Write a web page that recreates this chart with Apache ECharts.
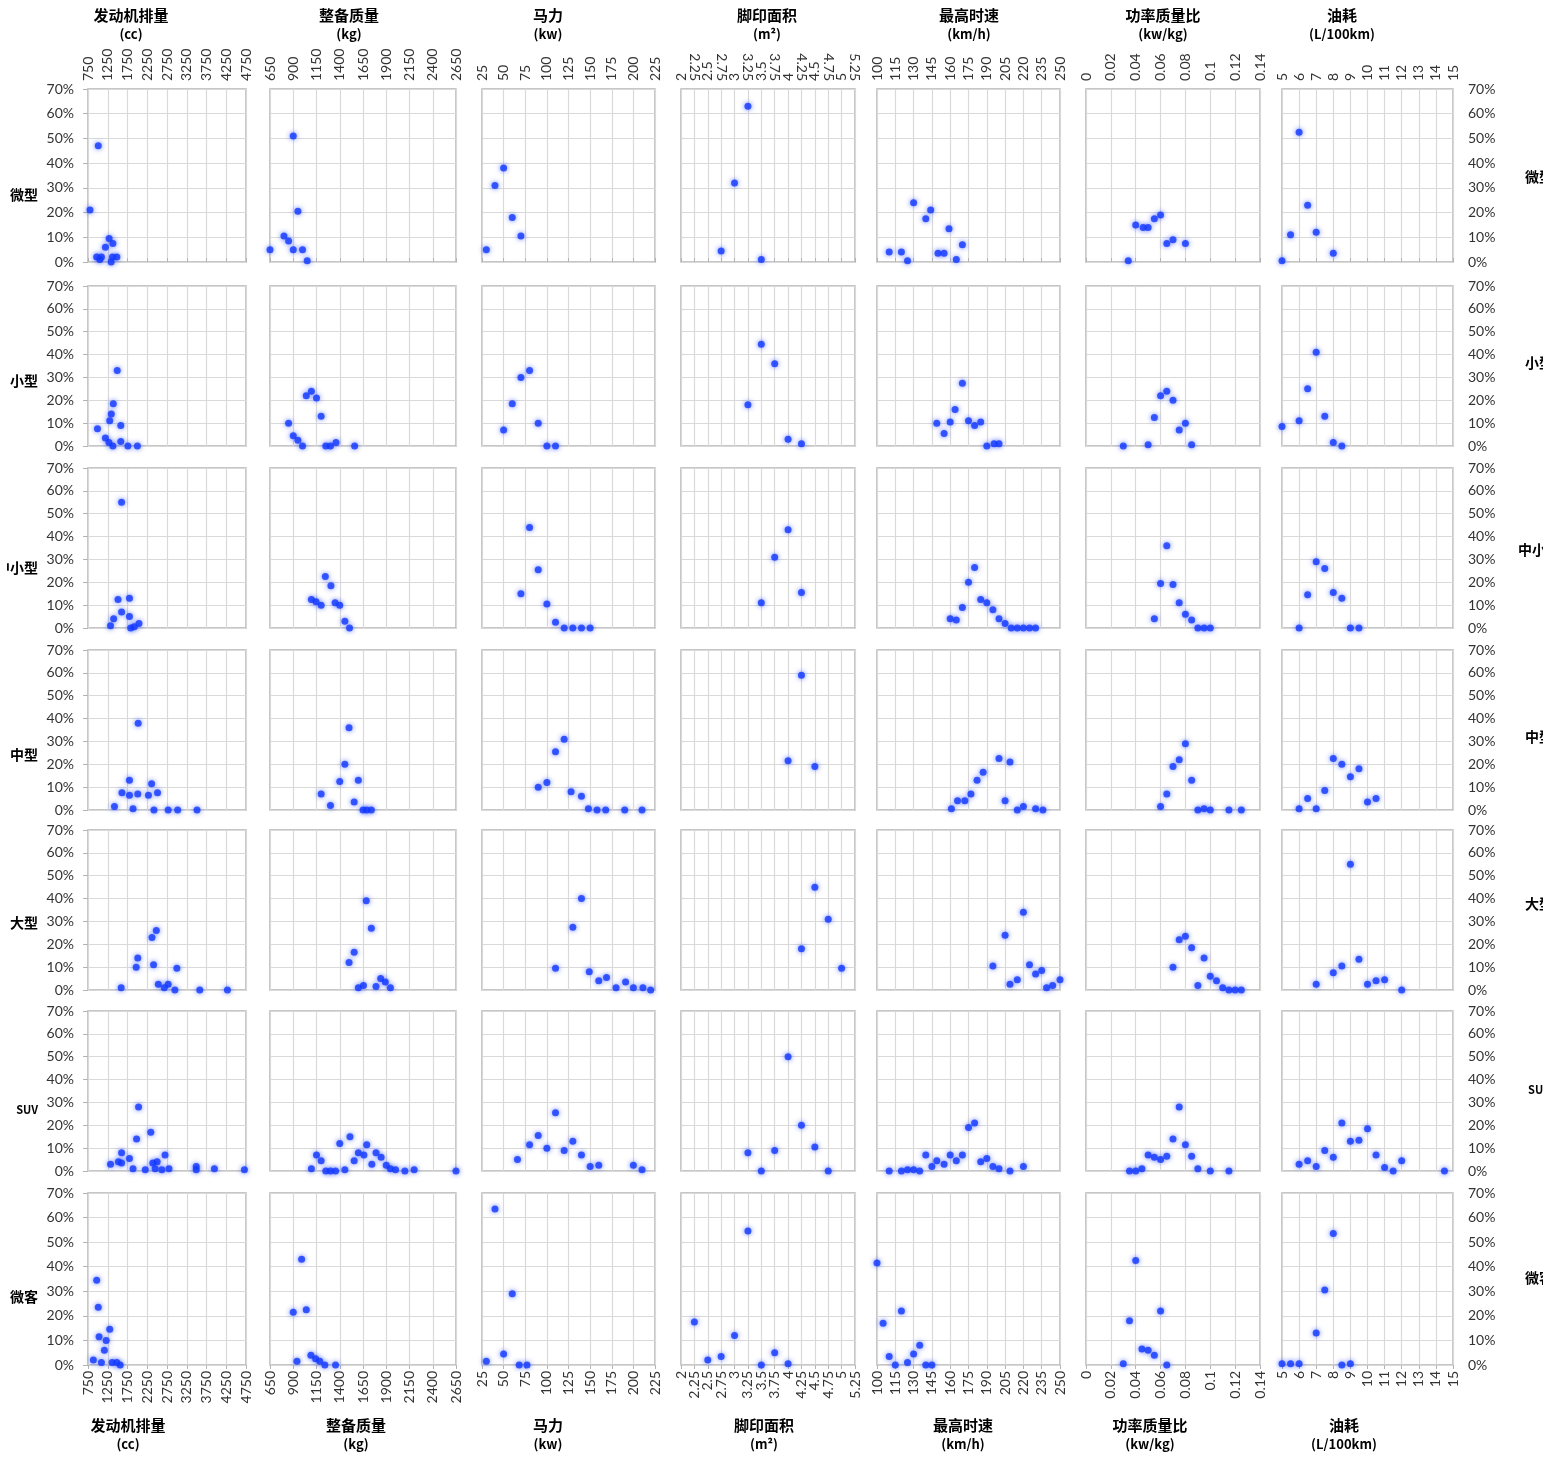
<!DOCTYPE html>
<html>
<head>
<meta charset="utf-8">
<script src="https://cdn.jsdelivr.net/npm/echarts@6/dist/echarts.min.js"></script>
<style>
  html, body { margin: 0; padding: 0; background: #fff; }
  #chart { width: 1560px; height: 1458px; }
</style>
</head>
<body>
<div id="chart"></div>
<script>
// Vehicle classes (rows) and attributes (columns)
const rowNames = ['微型', '小型', '中小型', '中型', '大型', 'SUV', '微客'];
const colNames = ['发动机排量', '整备质量', '马力', '脚印面积', '最高时速', '功率质量比', '油耗'];
const colUnits = ['(cc)', '(kg)', '(kw)', '(m²)', '(km/h)', '(kw/kg)', '(L/100km)'];

// Attribute axis ranges and tick steps
const xMin  = [750, 650, 25, 2, 100, 0, 5];
const xMax  = [4750, 2650, 225, 5.25, 250, 0.14, 15];
const xStep = [500, 250, 25, 0.25, 15, 0.02, 1];

// Share of models (%) axis
const yMin = 0, yMax = 70, yStep = 10;

// Share of models (%) by attribute value, one list per attribute column: [value, share%]
const microCar = [
  [[800,21],[1010,47],[970,2],[1050,1],[1090,2],[1190,6],[1285,9.5],[1380,7.5],[1370,2],[1335,0],[1480,2]],
  [[650,5],[900,51],[800,10.5],[850,8.5],[950,20.5],[900,5],[1000,5],[1050,0.5]],
  [[30,5],[40,31],[50,38],[60,18],[70,10.5]],
  [[3.25,63],[3,32],[2.75,4.5],[3.5,1]],
  [[110,4],[120,4],[125,0.5],[130,24],[140,17.5],[144,21],[150,3.5],[155,3.5],[159,13.5],[165,1],[170,7]],
  [[0.034,0.5],[0.04,15],[0.046,14],[0.05,14],[0.055,17.5],[0.06,19],[0.065,7.5],[0.07,9],[0.08,7.5]],
  [[6,52.5],[6.5,23],[5.5,11],[7,12],[8,3.5],[5,0.5]]
];
const smallCar = [
  [[1490,33],[1390,18.5],[1340,14],[1300,11],[990,7.5],[1190,3.5],[1280,1.5],[1380,0],[1580,9],[1580,2],[1760,0],[2000,0]],
  [[1040,22],[1095,24],[1150,21],[1200,13],[850,10],[900,4.5],[950,2.5],[1000,0],[1250,0],[1300,0],[1360,1.5],[1560,0]],
  [[50,7],[60,18.5],[70,30],[80,33],[90,10],[100,0],[110,0]],
  [[3.5,44.5],[3.75,36],[3.25,18],[4,3],[4.25,1]],
  [[170,27.5],[164,16],[149,10],[155,5.5],[160,10.5],[175,11],[180,9],[185,10.5],[190,0],[196,1],[200,1]],
  [[0.065,24],[0.06,22],[0.07,20],[0.055,12.5],[0.08,10],[0.075,7],[0.03,0],[0.05,0.5],[0.085,0.5]],
  [[7,41],[6.5,25],[6,11],[7.5,13],[5,8.5],[8,1.5],[8.5,0]]
];
const compactCar = [
  [[1600,55],[1510,12.5],[1800,13],[1600,7],[1400,4],[1800,5],[1320,1],[1830,0],[1920,0.5],[2040,2]],
  [[1245,22.5],[1305,18.5],[1095,12.5],[1145,11.5],[1200,10],[1350,11],[1400,10],[1455,3],[1505,0]],
  [[80,44],[90,25.5],[70,15],[100,10.5],[110,2.5],[120,0],[130,0],[140,0],[150,0]],
  [[4,43],[3.75,31],[3.5,11],[4.25,15.5]],
  [[180,26.5],[175,20],[170,9],[160,4],[165,3.5],[185,12.5],[190,11],[195,8],[200,4],[205,2],[210,0],[215,0],[220,0],[225,0],[230,0]],
  [[0.065,36],[0.06,19.5],[0.07,19],[0.075,11],[0.08,6],[0.085,3.5],[0.055,4],[0.09,0],[0.095,0],[0.1,0]],
  [[7,29],[7.5,26],[6.5,14.5],[8,15.5],[8.5,13],[6,0],[9,0],[9.5,0]]
];
const midCar = [
  [[2020,38],[1800,13],[1610,7.5],[1800,6.5],[2010,7],[2280,6.5],[2360,11.5],[2510,7.5],[1420,1.5],[1890,0.5],[2420,0],[2780,0],[3020,0],[3510,0]],
  [[1500,36],[1455,20],[1400,12.5],[1600,13],[1200,7],[1300,2],[1555,3.5],[1650,0],[1690,0],[1740,0]],
  [[120,31],[110,25.5],[90,10],[100,12],[128,8],[140,6],[148,0.5],[158,0],[168,0],[190,0],[210,0]],
  [[4.25,59],[4,21.5],[4.5,19]],
  [[200,22.5],[209,21],[187,16.5],[182,13],[177,7],[172,4],[166,4],[161,0.5],[205,4],[215,0],[220,1.5],[230,0.5],[236,0]],
  [[0.08,29],[0.075,22],[0.07,19],[0.085,13],[0.065,7],[0.06,1.5],[0.09,0],[0.095,0.5],[0.1,0],[0.115,0],[0.125,0]],
  [[8,22.5],[8.5,20],[9,14.5],[9.5,18],[7.5,8.5],[6.5,5],[6,0.5],[7,0.5],[10,3.5],[10.5,5]]
];
const largeCar = [
  [[2480,26],[2370,23],[2010,14],[1970,10],[2410,11],[3000,9.5],[1590,1],[2530,2.5],[2780,2.5],[2680,1],[2950,0],[3580,0],[4280,0]],
  [[1685,39],[1740,27],[1555,16.5],[1500,12],[1840,5],[1890,3.5],[1655,2],[1600,1],[1790,1.5],[1945,1]],
  [[140,40],[130,27.5],[110,9.5],[149,8],[160,4],[169,5.5],[180,1],[191,3.5],[200,1],[211,1],[220,0]],
  [[4.5,45],[4.75,31],[4.25,18],[5,9.5]],
  [[220,34],[205,24],[195,10.5],[225,11],[230,7],[215,4.5],[209,2.5],[235,8.5],[239,1],[244,2],[250,4.5]],
  [[0.08,23.5],[0.075,22],[0.085,18.5],[0.095,14],[0.07,10],[0.1,6],[0.105,4],[0.09,2],[0.11,1],[0.115,0],[0.12,0],[0.125,0]],
  [[9,55],[9.5,13.5],[8.5,10.5],[8,7.5],[7,2.5],[10,2.5],[10.5,4],[11,4.5],[12,0]]
];
const suv = [
  [[2030,28],[2340,17],[1980,14],[1600,8],[1800,5.5],[1320,3],[1520,4],[1600,3.5],[1890,1],[2200,0.5],[2390,3.5],[2500,4],[2700,7],[2450,1],[2620,0.5],[2800,1],[3490,2],[3490,0.5],[3950,1],[4710,0.5]],
  [[1510,15],[1400,12],[1690,11.5],[1600,8],[1660,7],[1790,8],[1845,6],[1555,4.5],[1150,7],[1200,4.5],[1095,1],[1745,3],[1900,2.5],[1945,1],[2000,0.5],[1250,0],[1300,0],[1355,0],[1455,0.5],[2100,0],[2200,0.5],[2650,0]],
  [[110,25.5],[90,15.5],[80,11.5],[100,10],[130,13],[120,9],[140,7],[150,2],[160,2.5],[200,2.5],[210,0.5],[66,5]],
  [[4,50],[4.25,20],[4.5,10.5],[3.25,8],[3.75,9],[3.5,0],[4.75,0]],
  [[175,19],[180,21],[140,7],[145,2],[149,4.5],[155,3],[160,7],[165,4.5],[170,7],[185,4],[190,5.5],[195,2],[200,1],[209,0],[220,2],[110,0],[120,0],[125,0.5],[130,0.5],[135,0]],
  [[0.075,28],[0.07,14],[0.08,11.5],[0.085,6.5],[0.05,7],[0.055,6],[0.06,5],[0.065,6.5],[0.045,1],[0.035,0],[0.04,0],[0.09,1],[0.1,0],[0.115,0]],
  [[8.5,21],[10,18.5],[9,13],[9.5,13.5],[7.5,9],[8,6],[6,3],[6.5,4.5],[7,2],[10.5,7],[11,1.5],[11.5,0],[12,4.5],[14.5,0]]
];
const microVan = [
  [[970,34.5],[1010,23.5],[1030,11.5],[1300,14.5],[1210,10],[1165,6],[885,2],[1090,1],[1360,1],[1480,1],[1565,0]],
  [[990,43],[900,21.5],[1040,22.5],[940,1.5],[1090,4],[1140,2.5],[1185,1.5],[1240,0],[1355,0]],
  [[40,63.5],[60,29],[50,4.5],[30,1.5],[68,0],[77,0]],
  [[3.25,54.5],[2.25,17.5],[3,12],[2.5,2],[2.75,3.5],[3.75,5],[3.5,0],[4,0.5]],
  [[100,41.5],[105,17],[120,22],[110,3.5],[115,0],[125,1],[130,4.5],[135,8],[140,0],[145,0]],
  [[0.04,42.5],[0.06,22],[0.035,18],[0.045,6.5],[0.05,6],[0.055,4],[0.03,0.5],[0.065,0]],
  [[8,53.5],[7.5,30.5],[7,13],[5,0.5],[5.5,0.5],[6,0.5],[8.5,0],[9,0.5]]
];

const rows = [microCar, smallCar, compactCar, midCar, largeCar, suv, microVan];

// Panel layout (pixels)
const colLeft   = [88, 270, 482, 681, 877, 1086, 1282];
const colRight  = [246, 456, 655, 855, 1060, 1260, 1453];
const rowTop    = [89, 286, 468, 650, 830, 1011, 1193];
const rowBottom = [262, 446, 628, 810, 990, 1171, 1365];

const tickFont = 'Lato, "Noto Sans CJK SC", sans-serif';
const titleFont = '"Noto Sans CJK SC", "Noto Sans", sans-serif';
const gridLine = { color: '#d9d9d9', width: 1.2 };
const plainNumber = v => String(parseFloat(Number(v).toFixed(4)));

// Tick values of a column's attribute axis
function tickValues(c) {
  const out = [];
  for (let k = 0; xMin[c] + k * xStep[c] <= xMax[c] + 1e-9; k++) {
    out.push(parseFloat((xMin[c] + k * xStep[c]).toFixed(4)));
  }
  return out;
}

const grids = [], xAxes = [], extraXAxes = [], yAxes = [], series = [];
rows.forEach((rowData, r) => {
  rowData.forEach((pts, c) => {
    const i = r * 7 + c;
    const isTop = r === 0, isBottom = r === rows.length - 1;
    const showX = isTop || isBottom;
    const width = colRight[c] - colLeft[c];
    const ticks = tickValues(c);
    // Closely spaced ticks: labels are split over two label layers so none is dropped
    const crowded = width / (ticks.length - 1) < 16;

    grids.push({
      left: colLeft[c], top: rowTop[r],
      width: width, height: rowBottom[r] - rowTop[r],
      show: true, backgroundColor: '#fff', borderColor: '#b4b4b4', borderWidth: 1.5,
      containLabel: false, outerBoundsMode: 'none'
    });
    const labelBase = {
      show: showX, rotate: 90, margin: isTop ? 8 : 6,
      showMinLabel: true, showMaxLabel: true, hideOverlap: false,
      formatter: plainNumber,
      fontSize: 14, color: '#333', fontFamily: tickFont
    };
    xAxes.push({
      type: 'value', gridIndex: i,
      min: xMin[c], max: xMax[c], interval: xStep[c],
      position: isTop ? 'top' : 'bottom',
      axisLine: { show: false },
      axisTick: { show: showX, length: 4, lineStyle: { color: '#b4b4b4' } },
      axisLabel: crowded
        ? Object.assign({}, labelBase, { customValues: ticks.filter((_, k) => k % 2 === 0) })
        : labelBase,
      splitLine: { show: true, lineStyle: gridLine }
    });
    if (crowded && showX) {
      extraXAxes.push({
        type: 'value', gridIndex: i,
        min: xMin[c], max: xMax[c], interval: xStep[c],
        position: isTop ? 'top' : 'bottom', offset: 0,
        axisLine: { show: false }, axisTick: { show: false }, splitLine: { show: false },
        axisLabel: Object.assign({}, labelBase, { customValues: ticks.filter((_, k) => k % 2 === 1) })
      });
    }
    yAxes.push({
      type: 'value', gridIndex: i,
      min: yMin, max: yMax, interval: yStep,
      position: c === 6 ? 'right' : 'left',
      axisLine: { show: false },
      axisTick: { show: c === 0, length: 5, lineStyle: { color: '#b4b4b4' } },
      axisLabel: {
        show: c === 0 || c === 6, formatter: '{value}%', margin: c === 0 ? 14 : 15,
        showMinLabel: true, showMaxLabel: true,
        fontSize: 14, color: '#333', fontFamily: tickFont
      },
      splitLine: { show: true, lineStyle: gridLine }
    });
    series.push({
      type: 'scatter', xAxisIndex: i, yAxisIndex: i,
      data: pts, symbol: 'circle', symbolSize: 7, clip: false,
      itemStyle: { color: '#1238ff', shadowBlur: 5, shadowColor: 'rgba(20,55,255,0.8)' }
    });
  });
});

// Column titles (top and bottom) and row labels (left and right)
const graphics = [];
const topTitleX = [131, 349, 548, 767, 969, 1163, 1342];
const bottomTitleX = [128, 356, 548, 764, 963, 1150, 1344];
colNames.forEach((name, c) => {
  graphics.push({ type: 'text', x: topTitleX[c], y: 15,
    style: { text: name, font: 'bold 15px ' + titleFont, fill: '#000', align: 'center', verticalAlign: 'middle' } });
  graphics.push({ type: 'text', x: topTitleX[c], y: 34,
    style: { text: colUnits[c], font: 'bold 13px ' + titleFont, fill: '#000', align: 'center', verticalAlign: 'middle' } });
  graphics.push({ type: 'text', x: bottomTitleX[c], y: 1425,
    style: { text: name, font: 'bold 15px ' + titleFont, fill: '#000', align: 'center', verticalAlign: 'middle' } });
  graphics.push({ type: 'text', x: bottomTitleX[c], y: 1444,
    style: { text: colUnits[c], font: 'bold 13px ' + titleFont, fill: '#000', align: 'center', verticalAlign: 'middle' } });
});
const leftLabelY  = [195, 381, 568, 755, 923, 1110, 1297];
const rightLabelY = [177, 363, 550, 737, 904, 1090, 1278];
rowNames.forEach((name, r) => {
  const size = name === 'SUV' ? 11 : 14;
  graphics.push({ type: 'text', x: 38, y: leftLabelY[r], z: 10,
    style: { text: name, font: 'bold ' + size + 'px ' + titleFont, fill: '#000', align: 'right', verticalAlign: 'middle' } });
  graphics.push({ type: 'text', x: 1539, y: rightLabelY[r], z: 10,
    style: { text: name, font: 'bold ' + size + 'px ' + titleFont, fill: '#000', align: 'center', verticalAlign: 'middle' } });
});
// Page margins trim the outer row labels
graphics.push({ type: 'rect', z: 20, shape: { x: 0, y: 0, width: 7, height: 1458 }, style: { fill: '#fff' } });
graphics.push({ type: 'rect', z: 20, shape: { x: 1543, y: 0, width: 17, height: 1458 }, style: { fill: '#fff' } });

const chart = echarts.init(document.getElementById('chart'), null, { renderer: 'canvas' });
chart.setOption({
  backgroundColor: '#fff',
  animation: false,
  grid: grids,
  xAxis: xAxes.concat(extraXAxes),
  yAxis: yAxes,
  series: series,
  graphic: graphics
});
</script>
</body>
</html>
